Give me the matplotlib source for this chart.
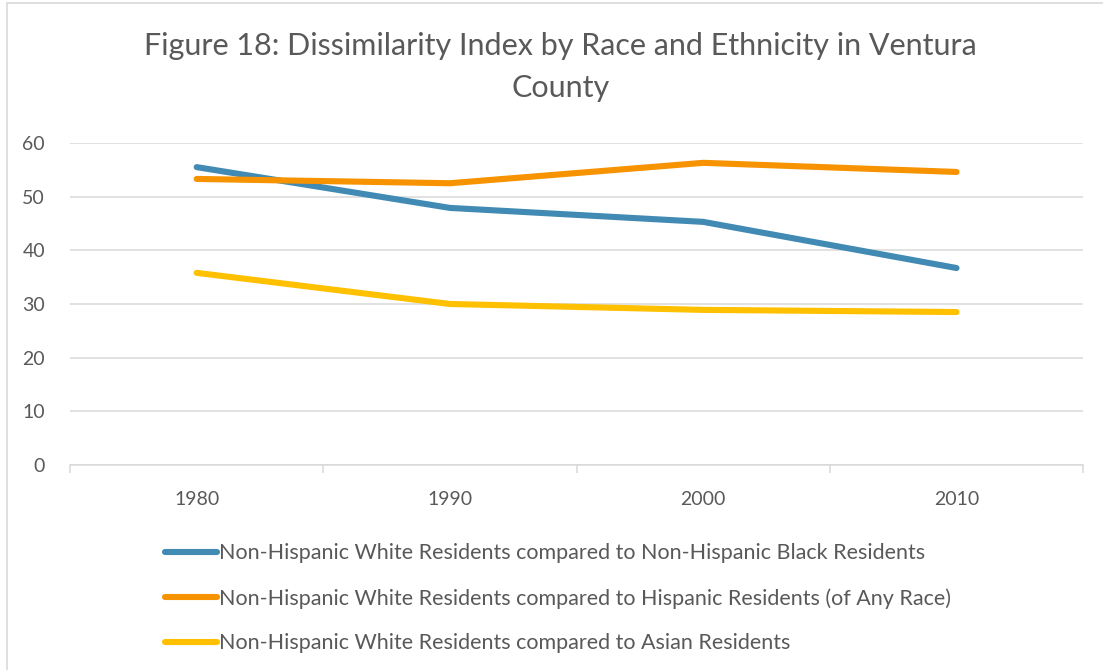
import matplotlib
matplotlib.use("Agg")
from matplotlib import pyplot as plt
from matplotlib.patches import Rectangle

matplotlib.rc('font', family=['Lato', 'DejaVu Sans'])

years = ['1980', '1990', '2000', '2010']
black = [55.5, 47.9, 45.3, 36.7]
hispanic = [53.3, 52.5, 56.3, 54.6]
asian = [35.8, 30.0, 28.9, 28.5]
labels = [
    'Non-Hispanic White Residents compared to Non-Hispanic Black Residents',
    'Non-Hispanic White Residents compared to Hispanic Residents (of Any Race)',
    'Non-Hispanic White Residents compared to Asian Residents',
]
colors = ['#418AB3', '#F79200', '#FFC000']
yticks = [0, 10, 20, 30, 40, 50, 60]

grey = '#595959'
fig = plt.figure(figsize=(11.03, 6.70), dpi=100)
fig.patches.append(Rectangle((0.0065, -0.01), 1.0, 1.0055, transform=fig.transFigure,
                             fc='none', ec='#D9D9D9', lw=1.2, zorder=0))
ax = fig.add_axes([0.0635, 0.306, 0.9185, 0.4806])

xs = range(len(years))
for vals, lab, c in zip([black, hispanic, asian], labels, colors):
    ax.plot(xs, vals, color=c, lw=4.4, solid_capstyle='round', label=lab, zorder=3)

ax.set_xlim(-0.5, len(years) - 0.5)
ax.set_ylim(0, 60)
ax.set_yticks(yticks)
ax.set_xticks(list(xs))
ax.set_xticklabels(years)
ax.set_xticks([i - 0.5 for i in range(len(years) + 1)], minor=True)
ax.grid(axis='y', color='#D9D9D9', lw=1.1, zorder=0)
for s in ['top', 'right', 'left']:
    ax.spines[s].set_visible(False)
ax.spines['bottom'].set_color('#D9D9D9')
ax.spines['bottom'].set_linewidth(1.1)
ax.tick_params(axis='y', length=0, pad=18, labelsize=14, labelcolor=grey)
ax.tick_params(axis='x', which='major', length=0, pad=19, labelsize=14, labelcolor=grey)
ax.tick_params(axis='x', which='minor', length=6, color='#D9D9D9', width=1.1)

fig.text(0.508, 0.9, 'Figure 18: Dissimilarity Index by Race and Ethnicity in Ventura\nCounty',
         ha='center', va='center', fontsize=22, color=grey, linespacing=1.6)

leg = fig.legend(loc='upper left', bbox_to_anchor=(0.142, 0.202), frameon=False,
                 fontsize=15.5, labelcolor=grey, handlelength=2.4, handletextpad=0.1,
                 labelspacing=1.15, borderaxespad=0)
for h in leg.get_lines():
    h.set_linewidth(4.4)

fig.savefig('out.png', dpi=100)
